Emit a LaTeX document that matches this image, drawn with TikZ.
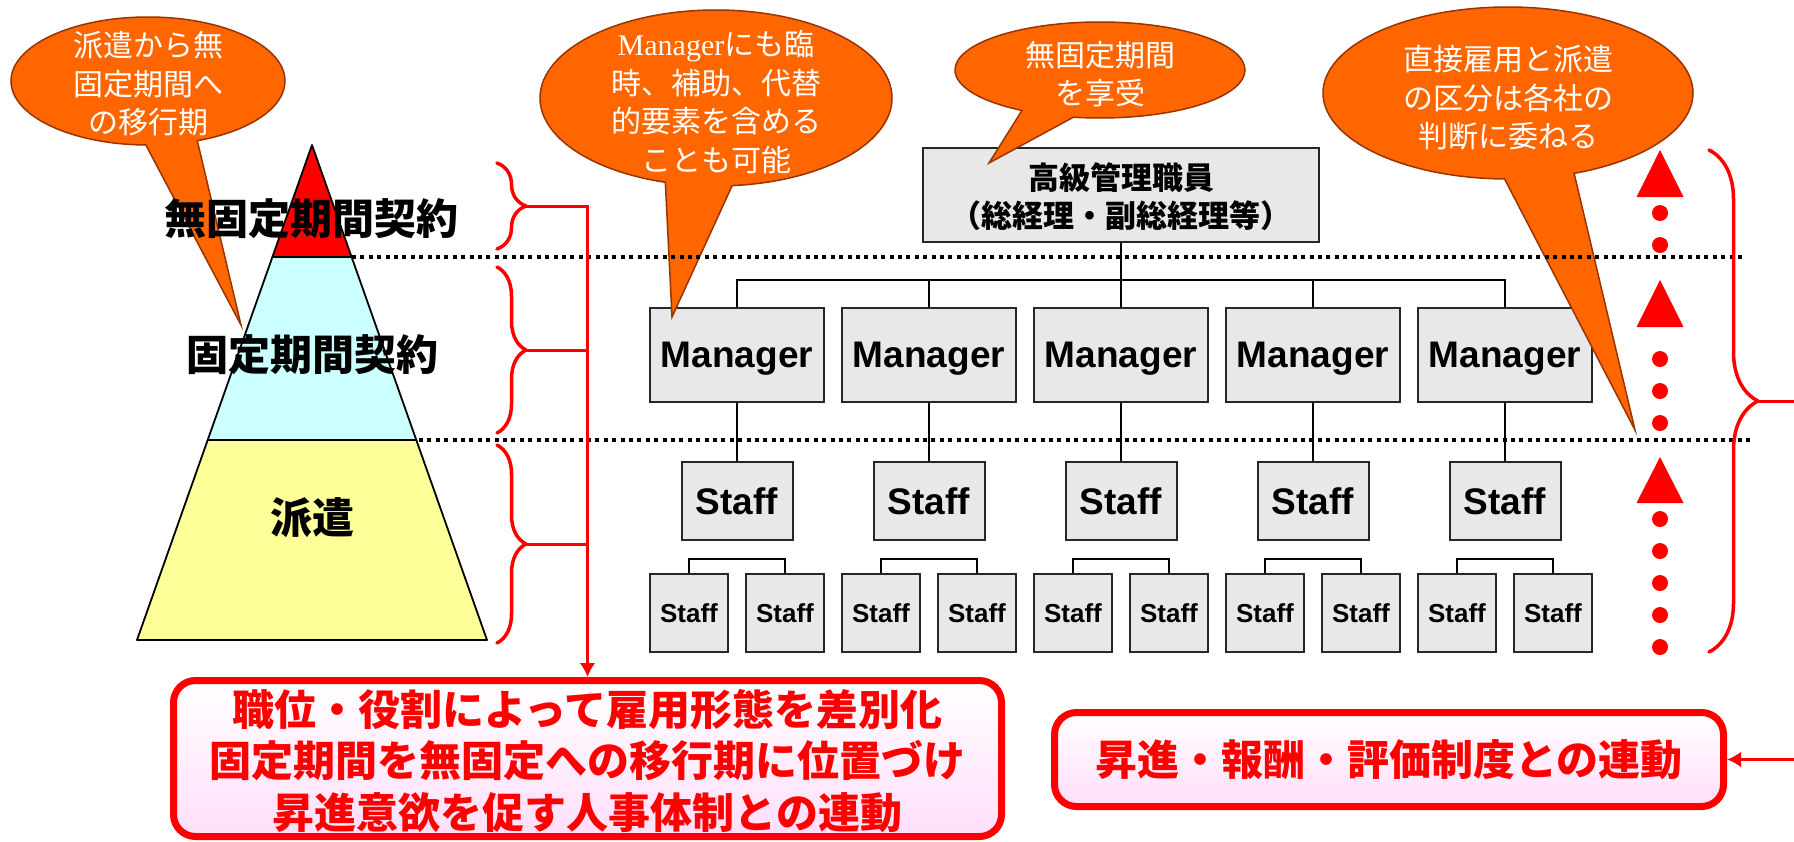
\documentclass[tikz,border=0pt]{standalone}
\usepackage{fontspec}
\usetikzlibrary{shapes.callouts,decorations.pathreplacing,arrows.meta}
\newfontfamily\jpfont{Noto Sans CJK JP}
\newfontfamily\arialfont{Liberation Sans}
\newfontfamily\timesfont{Liberation Serif}
\definecolor{bubfill}{RGB}{255,102,0}
\definecolor{bubedge}{RGB}{153,51,0}
\definecolor{pyrcyan}{RGB}{204,255,255}
\definecolor{pyryellow}{RGB}{255,255,153}
\definecolor{boxgray}{RGB}{232,232,232}
\definecolor{boxpink}{RGB}{255,222,250}
\tikzset{
    bubble/.style={ellipse callout, fill=bubfill, draw=bubedge, line width=1.5pt, callout pointer arc=22, inner sep=0pt},
    bubtext/.style={text=white, align=center, font=\jpfont\fontsize{30pt}{38.5pt}\selectfont},
    layer/.style={draw=black, line width=1.8pt, line join=round},
    tierlabel/.style={font=\jpfont\bfseries\fontsize{42pt}{46pt}\selectfont},
    orgbox/.style={draw=black!85, line width=2pt, fill=boxgray, inner sep=0pt, text depth=0pt, font=\arialfont\bfseries\fontsize{37pt}{40pt}\selectfont},
    mgr/.style={orgbox, minimum width=174pt, minimum height=94pt},
    staff/.style={orgbox, minimum width=111pt, minimum height=78pt},
    substaff/.style={orgbox, minimum width=78pt, minimum height=78pt, font=\arialfont\bfseries\fontsize{26pt}{28pt}\selectfont},
    wire/.style={draw=black, line width=1.5pt},
    tierline/.style={draw=black, line width=3.5pt, dash pattern=on 4pt off 4.4pt},
    bracered/.style={draw=red, line width=3.5pt, line cap=round, line join=round, decorate, decoration={brace, amplitude=29pt}},
    redline/.style={draw=red, line width=3pt},
    updots/.style={draw=red, line width=16pt, line cap=round, dash pattern=on 0pt off 32pt},
    redbox/.style={draw=red, line width=7pt, rounded corners=22pt, top color=white, bottom color=boxpink, inner sep=0pt, text=red, align=center, font=\jpfont\bfseries\fontsize{42pt}{51.5pt}\selectfont}
}
\begin{document}
\begin{tikzpicture}[x=1pt, y=-1pt]
            \useasboundingbox (0,0) rectangle (1794,841);

            \filldraw[layer, fill=red] (312,145) -- (351.6,257) -- (272.4,257) -- cycle;
            \filldraw[layer, fill=pyrcyan] (272.4,257) -- (351.6,257) -- (416.3,440) -- (207.7,440) -- cycle;
            \filldraw[layer, fill=pyryellow] (207.7,440) -- (416.3,440) -- (487,640) -- (137,640) -- cycle;

            \node (top) at (1121,195) [orgbox, minimum width=396pt, minimum height=94pt, align=center, font=\jpfont\bfseries\fontsize{31pt}{38pt}\selectfont] {高級管理職員\\（総経理・副総経理等）};

            \node (m1) at (737,355) [mgr] {Manager};
            \node (m2) at (929,355) [mgr] {Manager};
            \node (m3) at (1121,355) [mgr] {Manager};
            \node (m4) at (1313,355) [mgr] {Manager};
            \node (m5) at (1505,355) [mgr] {Manager};

            \node (s1) at (737,501) [staff] {Staff};
            \node (s2) at (929,501) [staff] {Staff};
            \node (s3) at (1121,501) [staff] {Staff};
            \node (s4) at (1313,501) [staff] {Staff};
            \node (s5) at (1505,501) [staff] {Staff};

            \node (a1) at (689,613) [substaff] {Staff};
            \node (b1) at (785,613) [substaff] {Staff};
            \node (a2) at (881,613) [substaff] {Staff};
            \node (b2) at (977,613) [substaff] {Staff};
            \node (a3) at (1073,613) [substaff] {Staff};
            \node (b3) at (1169,613) [substaff] {Staff};
            \node (a4) at (1265,613) [substaff] {Staff};
            \node (b4) at (1361,613) [substaff] {Staff};
            \node (a5) at (1457,613) [substaff] {Staff};
            \node (b5) at (1553,613) [substaff] {Staff};

            \coordinate (bus) at (1121,280);
            \draw[wire] (top.south) -- (bus);
            \draw[wire] (m1.north) -- (m1.north |- bus) -- (m5.north |- bus) -- (m5.north);
            \draw[wire] (m2.north) -- (m2.north |- bus);
            \draw[wire] (m3.north) -- (m3.north |- bus);
            \draw[wire] (m4.north) -- (m4.north |- bus);
            \draw[wire] (m1.south) -- (s1.north);
            \draw[wire] (m2.south) -- (s2.north);
            \draw[wire] (m3.south) -- (s3.north);
            \draw[wire] (m4.south) -- (s4.north);
            \draw[wire] (m5.south) -- (s5.north);
            \draw[wire] (a1.north) -- ++(0,-14) -| (b1.north);
            \draw[wire] (a2.north) -- ++(0,-14) -| (b2.north);
            \draw[wire] (a3.north) -- ++(0,-14) -| (b3.north);
            \draw[wire] (a4.north) -- ++(0,-14) -| (b4.north);
            \draw[wire] (a5.north) -- ++(0,-14) -| (b5.north);

            \coordinate (ptL) at (241,325);
            \coordinate (ptM) at (672,317);
            \coordinate (ptT) at (989,163);
            \coordinate (ptR) at (1635,430);
            \node (bubL) at (148,81) [bubble, minimum width=274pt, minimum height=128pt, callout absolute pointer={(ptL)}] {};
            \node (bubM) at (716,98) [bubble, minimum width=352pt, minimum height=176pt, callout absolute pointer={(ptM)}] {};
            \node (bubT) at (1100,70) [bubble, minimum width=290pt, minimum height=96pt, callout absolute pointer={(ptT)}] {};
            \node (bubR) at (1508,93) [bubble, minimum width=370pt, minimum height=172pt, callout absolute pointer={(ptR)}] {};
            \node (bubLtxt) at (148,84) [bubtext] {派遣から無\\固定期間へ\\の移行期};
            \node (bubMtxt) at (716,102) [bubtext] {{\timesfont Manager}にも臨\\時、補助、代替\\的要素を含める\\ことも可能};
            \node (bubTtxt) at (1100,74) [bubtext] {無固定期間\\を享受};
            \node (bubRtxt) at (1508,98) [bubtext] {直接雇用と派遣\\の区分は各社の\\判断に委ねる};

            \node (tier1) at (311,219) [tierlabel] {無固定期間契約};
            \node (tier2) at (312,355) [tierlabel] {固定期間契約};
            \node (tier3) at (312,518) [tierlabel] {派遣};

            \draw[tierline] (352,257) -- (1745,257);
            \draw[tierline] (419,440) -- (1754,440);

            \draw[bracered] (497,163) -- (497,249);
            \draw[bracered] (497,267) -- (497,433);
            \draw[bracered] (497,445) -- (497,643);
            \draw[bracered, decoration={amplitude=49pt}] (1709,150) -- (1709,652);

            \node (lbox) at (587.5,758.5) [redbox, minimum width=828pt, minimum height=156pt, text depth=0pt] {職位・役割によって雇用形態を差別化\\固定期間を無固定への移行期に位置づけ\\昇進意欲を促す人事体制との連動};
            \node (rbox) at (1389,759.5) [redbox, minimum width=669pt, minimum height=94pt] {昇進・報酬・評価制度との連動};

            \coordinate (tipA) at (526,206);
            \coordinate (tipB) at (526,350);
            \coordinate (tipC) at (526,544);
            \coordinate (tipR) at (1758,401);
            \coordinate (edgeR) at (1802,401);
            \draw[redline, -{Latex[length=14pt,width=16pt]}] (tipA) -| (lbox.north);
            \draw[redline] (tipB) -- (tipB -| lbox.north);
            \draw[redline] (tipC) -- (tipC -| lbox.north);
            \draw[redline, -{Latex[length=14pt,width=16pt]}] (tipR) -- (edgeR) |- (rbox.east);

            \draw[updots] (1660,245) -- (1660,197);
            \fill[red] (1636.5,197) -- (1660,150) -- (1683.5,197) -- cycle;
            \draw[updots] (1660,423) -- (1660,327);
            \fill[red] (1636.5,327) -- (1660,280) -- (1683.5,327) -- cycle;
            \draw[updots] (1660,647) -- (1660,503);
            \fill[red] (1636.5,503) -- (1660,457) -- (1683.5,503) -- cycle;
\end{tikzpicture}
\end{document}
